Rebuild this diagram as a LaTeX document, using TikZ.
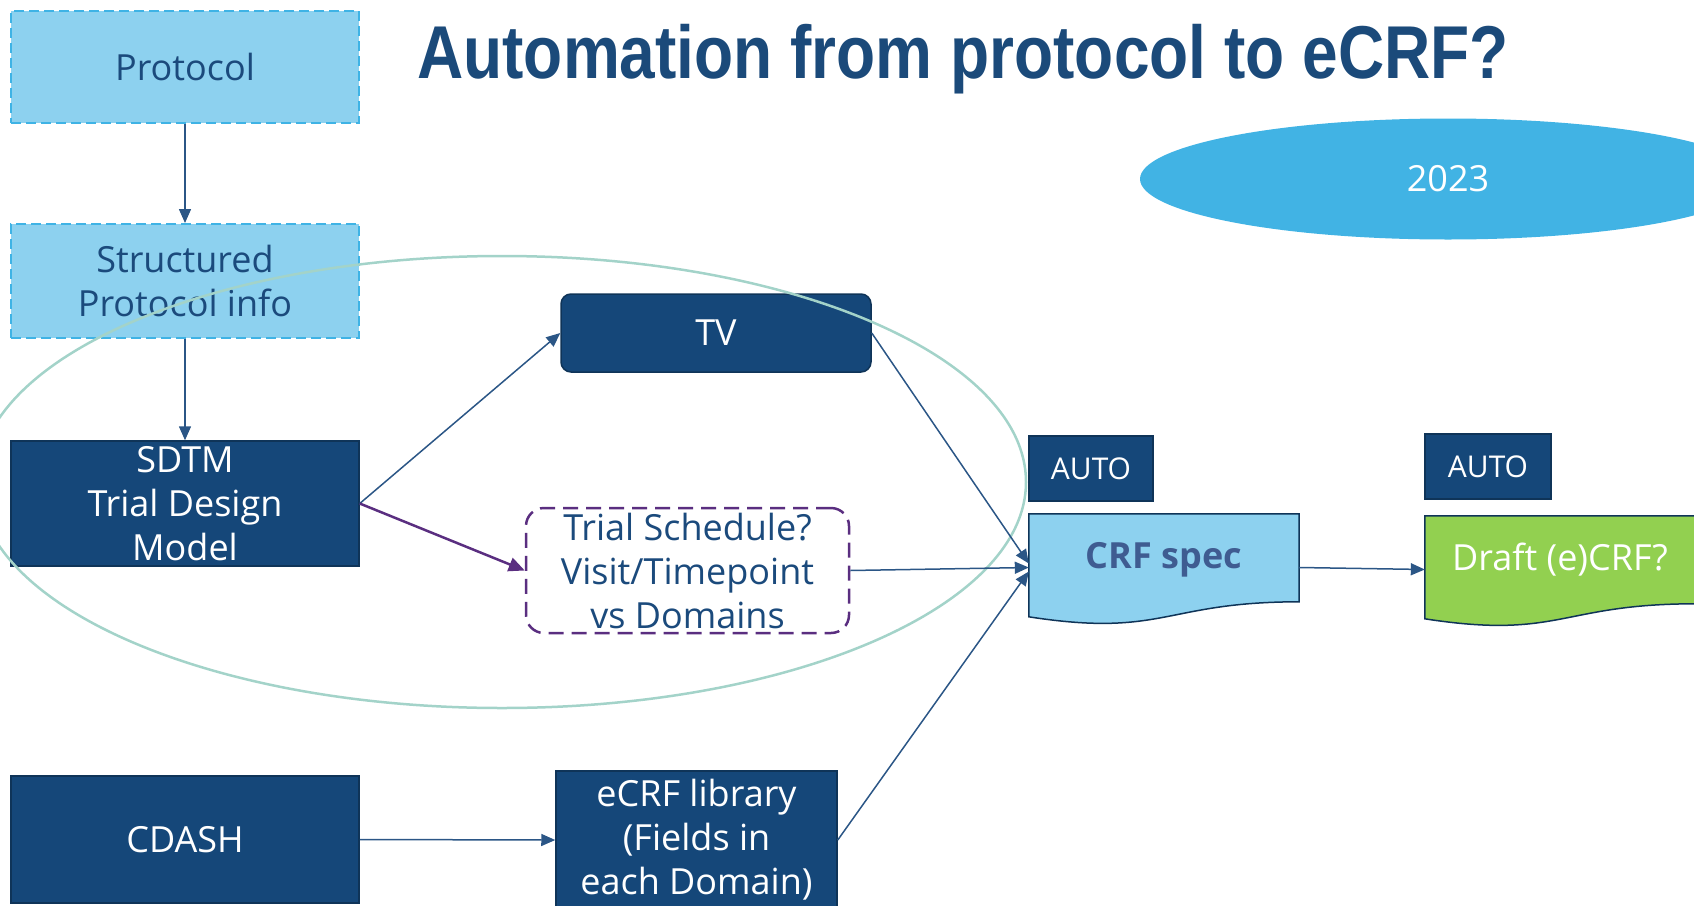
\documentclass[tikz,border=0pt]{standalone}
\usepackage{fontspec}
\setmainfont{Open Sans}
\newfontfamily\titlefont{Liberation Sans}
\usetikzlibrary{arrows.meta,shapes.geometric,calc}
\definecolor{navy}{HTML}{154779}
\definecolor{navyborder}{HTML}{0F3458}
\definecolor{navytext}{HTML}{1B4A7C}
\definecolor{lightfill}{HTML}{8DD1EF}
\definecolor{dashblue}{HTML}{3FB3E5}
\definecolor{skyfill}{HTML}{41B3E4}
\definecolor{greenfill}{HTML}{92D050}
\definecolor{tealline}{HTML}{A3D3C9}
\definecolor{purpleline}{HTML}{5A2E80}
\definecolor{arrowline}{HTML}{2B5686}
\definecolor{slatetext}{HTML}{3F5C91}
\definecolor{titleblue}{HTML}{1B4A7A}
\tikzset{
  base/.style={rectangle, inner sep=0pt, align=center, font=\fontsize{36}{44}\selectfont},
  lbox/.style={base, fill=lightfill, draw=dashblue, line width=2pt, dash pattern=on 10pt off 5pt, text=navytext, minimum width=348pt},
  nbox/.style={base, fill=navy, draw=navyborder, line width=1.5pt, text=white},
  abox/.style={nbox, font=\fontsize{30}{36}\selectfont, minimum height=65pt},
  docbox/.style={rectangle, inner sep=0pt, minimum width=270pt, minimum height=107pt},
  arr/.style={draw=arrowline, line width=1.5pt, -{Triangle[length=14pt,width=12pt]}},
  parr/.style={draw=purpleline, line width=2.5pt, -{Triangle[length=16pt,width=14pt]}},
}
\begin{document}
\begin{tikzpicture}[x=1pt,y=-1pt]
\useasboundingbox (0,0) rectangle (1694,905);
% title
\node[font=\titlefont\bfseries\fontsize{64}{70}\selectfont, text=titleblue, inner sep=0pt, anchor=base] (title) at (963,78.5) {\scalebox{1}[1.17]{Automation from protocol to eCRF?}};
% 2023 ellipse
\node[ellipse, fill=skyfill, inner sep=0pt, minimum width=616pt, minimum height=121pt, text=white, font=\fontsize{36}{44}\selectfont] (year) at (1448,179) {2023};
% left column
\node[lbox, minimum height=112pt] (protocol) at (185,67) {Protocol};
\node[lbox, minimum height=114pt] (struct) at (185,281) {Structured\\Protocol info};
\node[nbox, minimum width=348pt, minimum height=125pt] (sdtm) at (185,503.5) {SDTM\\Trial Design\\Model};
\node[nbox, minimum width=348pt, minimum height=127pt] (cdash) at (185,839.5) {CDASH};
% middle column
\node[nbox, rounded corners=10pt, minimum width=310pt, minimum height=78pt] (tv) at (716,333) {TV};
\node[base, draw=purpleline, line width=2.5pt, dash pattern=on 15pt off 8pt, rounded corners=18pt, text=navytext, minimum width=323pt, minimum height=125pt] (trial) at (687.5,570.5) {Trial Schedule?\\Visit/Timepoint\\vs Domains};
\node[nbox, minimum width=281pt, minimum height=138pt] (ecrf) at (696.5,840) {eCRF library\\(Fields in\\each Domain)};
% AUTO boxes
\node[abox, minimum width=124pt] (auto1) at (1091,468.5) {AUTO};
\node[abox, minimum width=126pt] (auto2) at (1488,466.5) {AUTO};
% document shapes
\node[docbox] (crf) at (1164,567.5) {};
\draw[fill=lightfill, draw=navyborder, line width=1.5pt]
  (crf.north west) -- (crf.north east) -- ($(crf.north east)+(0,88)$)
  .. controls ($(crf.north)+(0,88)$) and ($(crf.north)+(0,124)$) .. ($(crf.north west)+(0,103)$) -- cycle;
\node[font=\bfseries\fontsize{36}{44}\selectfont, text=slatetext, inner sep=0pt] (crftext) at ([yshift=8pt]crf.center) {CRF spec};
\node[docbox] (draft) at (1560,569.5) {};
\draw[fill=greenfill, draw=navyborder, line width=1.5pt]
  (draft.north west) -- (draft.north east) -- ($(draft.north east)+(0,88)$)
  .. controls ($(draft.north)+(0,88)$) and ($(draft.north)+(0,124)$) .. ($(draft.north west)+(0,103)$) -- cycle;
\node[font=\fontsize{36}{44}\selectfont, text=white, inner sep=0pt] (drafttext) at ([yshift=10pt]draft.center) {Draft (e)CRF?};
% big ellipse
\draw[tealline, line width=2.5pt] (502,482) ellipse [x radius=524, y radius=226];
% connectors
\draw[arr] (protocol) -- (struct);
\draw[arr] (struct) -- (sdtm);
\draw[arr] (sdtm.east) -- (tv.west);
\draw[parr] (sdtm.east) -- (trial.west);
\draw[arr] (tv.east) -- ([yshift=4pt]crf.west);
\draw[arr] (trial.east) -- (crf.west);
\draw[arr] (ecrf.east) -- ([yshift=-4pt]crf.west);
\draw[arr] (cdash.east) -- (ecrf.west);
\draw[arr] (crf.east) -- (draft.west);
\end{tikzpicture}
\end{document}
